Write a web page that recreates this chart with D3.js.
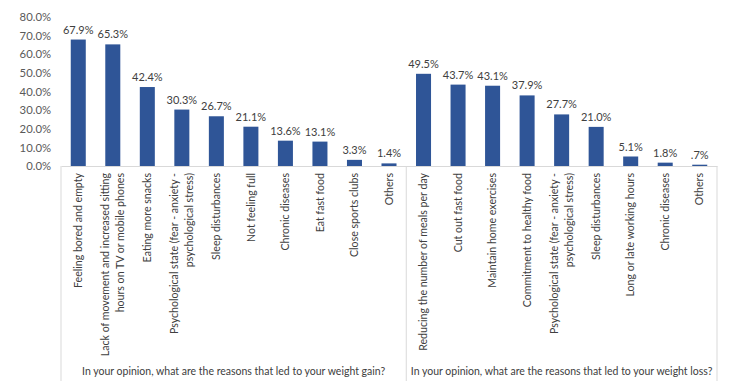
<!DOCTYPE html>
<html><head><meta charset="utf-8">
<script src="https://cdn.jsdelivr.net/npm/d3@7"></script>
<style>
body{margin:0;background:#fff}
svg text{font-family:Lato, "Liberation Sans", sans-serif}
</style></head>
<body><svg id="chart" width="750" height="392"></svg>
<script>
const gainCategories = [
  "Feeling bored and empty",
  "Lack of movement and increased sitting|hours on TV or mobile phones",
  "Eating more snacks",
  "Psychological state (fear - anxiety -|psychological stress)",
  "Sleep disturbances",
  "Not feeling full",
  "Chronic diseases",
  "Eat fast food",
  "Close sports clubs",
  "Others"
];
const gainValues = [67.9, 65.3, 42.4, 30.3, 26.7, 21.1, 13.6, 13.1, 3.3, 1.4];
const lossCategories = [
  "Reducing the number of meals per day",
  "Cut out fast food",
  "Maintain home exercises",
  "Commitment to healthy food",
  "Psychological state (fear - anxiety -|psychological stress)",
  "Sleep disturbances",
  "Long or late working hours",
  "Chronic diseases",
  "Others"
];
const lossValues = [49.5, 43.7, 43.1, 37.9, 27.7, 21.0, 5.1, 1.8, 0.7];
const groupTitles = [
  "In your opinion, what are the reasons that led to your weight gain?",
  "In your opinion, what are the reasons that led to your weight loss?"
];
const yTicks = [0, 10, 20, 30, 40, 50, 60, 70, 80];

const rows = [];
gainCategories.forEach((c, i) => rows.push({id: "g" + i, group: 0, label: c, value: gainValues[i]}));
lossCategories.forEach((c, i) => rows.push({id: "l" + i, group: 1, label: c, value: lossValues[i]}));

const svg = d3.select("#chart");
const mLeft = 61, mRight = 717, mTop = 17, mBottom = 166, lineBottom = 381;

const x = d3.scaleBand().domain(rows.map(d => d.id)).range([mLeft, mRight])
  .paddingInner(0.565).paddingOuter(0.2825);
const y = d3.scaleLinear().domain([0, 80]).range([mBottom, mTop]);

const fmt = v => { let s = v.toFixed(1); if (s.startsWith("0.")) s = s.slice(1); return s + "%"; };

// y axis
const yAxis = svg.append("g").attr("transform", `translate(${54},0)`)
  .call(d3.axisLeft(y).tickValues(yTicks).tickSize(0).tickPadding(3).tickFormat(d => d.toFixed(1) + "%"));
yAxis.select(".domain").remove();
yAxis.selectAll("text").attr("fill", "#595959").style("font-size", "11.3px").style("font-family", "Lato, sans-serif");

// x axis line
const xAxis = svg.append("g").attr("transform", `translate(0,${mBottom})`)
  .call(d3.axisBottom(x).tickSize(0).tickFormat(""));
xAxis.select(".domain").attr("stroke", "#D9D9D9");

// group separators
const step = x.step();
const bounds = [mLeft, mLeft + step * gainCategories.length, mRight];
svg.append("g").selectAll("line").data(bounds).join("line")
  .attr("x1", d => d).attr("x2", d => d).attr("y1", mBottom).attr("y2", lineBottom)
  .attr("stroke", "#D9D9D9");

// bars
svg.append("g").selectAll("rect").data(rows).join("rect")
  .attr("x", d => x(d.id)).attr("width", x.bandwidth())
  .attr("y", d => y(d.value)).attr("height", d => y(0) - y(d.value))
  .attr("fill", "#2F5597");

// data labels
svg.append("g").selectAll("text").data(rows).join("text")
  .attr("x", d => x(d.id) + x.bandwidth() / 2).attr("y", d => y(d.value) - 6)
  .attr("text-anchor", "middle").attr("fill", "#404040").style("font-size", "11px")
  .text(d => fmt(d.value));

// category labels
const lineH = 15;
const cat = svg.append("g").selectAll("text").data(rows).join("text")
  .attr("transform", d => `translate(${x(d.id) + x.bandwidth() / 2},${mBottom + 7}) rotate(-90)`)
  .attr("text-anchor", "end").attr("fill", "#404040").style("font-size", "10.6px");
cat.each(function(d) {
  const lines = d.label.split("|");
  const n = lines.length;
  d3.select(this).selectAll("tspan").data(lines).join("tspan")
    .attr("x", 0).attr("y", (l, i) => (i - (n - 1) / 2) * lineH)
    .attr("dy", "0.35em").text(l => l);
});

// group titles
svg.append("g").selectAll("text").data(groupTitles).join("text")
  .attr("x", (d, i) => (bounds[i] + bounds[i + 1]) / 2).attr("y", 371)
  .attr("dy", "0.35em").attr("text-anchor", "middle").attr("fill", "#404040")
  .style("font-size", "10.5px").text(d => d);
</script>
</body></html>
